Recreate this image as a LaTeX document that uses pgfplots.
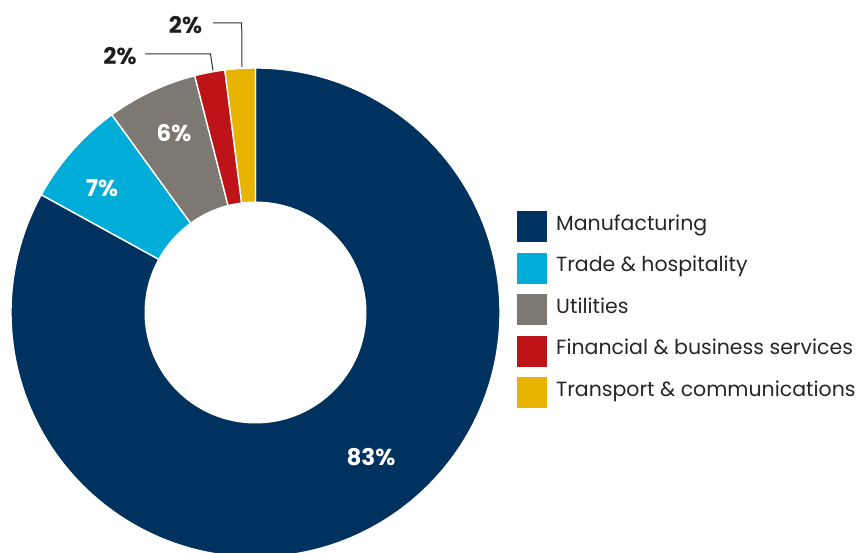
\documentclass[border=0pt]{standalone}
\usepackage{pgfplots}
\pgfplotsset{compat=1.18}
\usepackage{pgfplotstable}
\usepackage{fontspec}
\setmainfont{Poppins}

\definecolor{c0}{RGB}{0,50,96}
\definecolor{c1}{RGB}{0,172,216}
\definecolor{c2}{RGB}{125,121,114}
\definecolor{c3}{RGB}{190,20,25}
\definecolor{c4}{RGB}{232,180,0}
\definecolor{leader}{RGB}{50,50,50}

% share of each sector, in %
\pgfplotstableread{
share
83
7
6
2
2
}\shares

% start and end angle of every wedge, clockwise from the top
\xdef\acc{90}
\foreach \i in {0,...,4}{
  \pgfplotstablegetelem{\i}{share}\of\shares
  \pgfmathsetmacro\e{\acc-3.6*\pgfplotsretval}
  \expandafter\xdef\csname sa\i\endcsname{\acc}
  \expandafter\xdef\csname ea\i\endcsname{\e}
  \xdef\acc{\e}
}

\begin{document}
\begin{tikzpicture}
\begin{axis}[
  hide axis, scale only axis,
  width=861pt, height=553pt,
  xmin=0, xmax=861, ymin=0, ymax=553,
  clip=true,
  legend cell align=left,
  legend image code/.code={\fill[#1, draw=none] (0pt,-15.5pt) rectangle (30pt,15.5pt);},
  legend style={at={(axis cs:517,342)}, anchor=north west, draw=none, fill=none,
    inner sep=0pt, row sep=10.5pt, column sep=9pt,
    font=\fontsize{20.5}{24}\selectfont,
    nodes={inner sep=0pt, text height=0.7em, text depth=0pt, text=black!85}},
]
\pgfplotsinvokeforeach{0,...,4}{
  \fill[fill=c#1, draw=white, line width=1.4pt]
    (axis cs:255.5,240.5) -- ++(\csname sa#1\endcsname:244.5pt)
    arc[start angle=\csname sa#1\endcsname, end angle=\csname ea#1\endcsname, radius=244.5pt] -- cycle;
}
\fill[white] (axis cs:255.5,240.5) circle[radius=111pt];

\addlegendimage{fill=c0}\addlegendentry{Manufacturing}
\addlegendimage{fill=c1}\addlegendentry{Trade \& hospitality}
\addlegendimage{fill=c2}\addlegendentry{Utilities}
\addlegendimage{fill=c3}\addlegendentry{Financial \& business services}
\addlegendimage{fill=c4}\addlegendentry{Transport \& communications}

\draw[leader, line width=1pt] (axis cs:145,499) -- (axis cs:210.5,499) -- (axis cs:213,482.5);
\draw[leader, line width=1pt] (axis cs:213,530) -- (axis cs:241.7,530) -- (axis cs:242,486);

\begin{scope}[every node/.style={inner sep=0pt, font=\fontsize{23}{26}\selectfont\bfseries}]
\node[text=white] at (axis cs:371,95.5) {83\%};
\node[text=white] at (axis cs:102,365) {7\%};
\node[text=white] at (axis cs:174,420) {6\%};
\node[text=black!88] at (axis cs:120,497) {2\%};
\node[text=black!88] at (axis cs:185.5,528) {2\%};
\end{scope}
\end{axis}
\pgfresetboundingbox
\path[use as bounding box] (0,0) rectangle (861pt,553pt);
\end{tikzpicture}
\end{document}
